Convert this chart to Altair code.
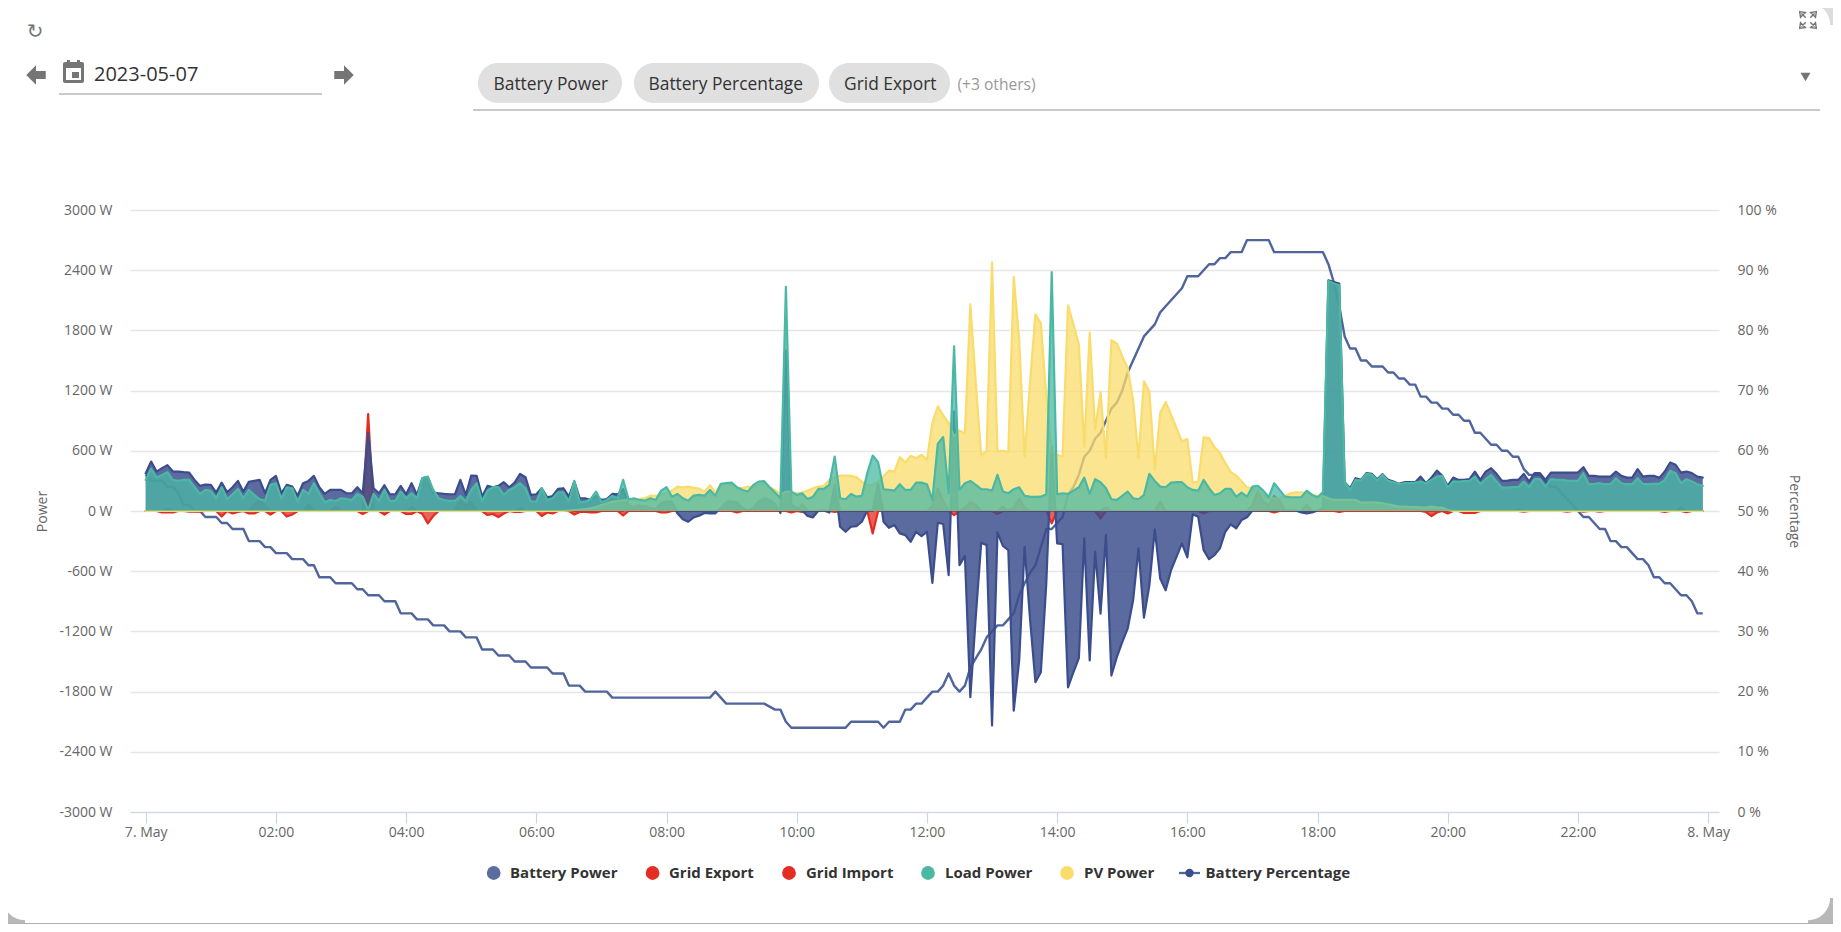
import altair as alt
import pandas as pd

battery_power = [
 376,493,393,427,457,393,393,387,383,310,
 250,263,260,183,283,187,237,300,193,290,
 300,310,177,310,350,177,260,243,153,277,
 300,350,237,170,210,210,210,177,177,237,
 177,777,227,177,257,167,167,250,167,277,
 160,327,337,183,177,170,167,167,310,160,
 353,350,143,250,237,250,287,237,283,370,
 337,160,167,227,137,150,220,227,143,293,
 127,127,110,150,110,120,170,165,220,60,
 27,40,50,30,20,80,95,90,-23,-83,
 -107,-63,-47,-20,-23,-23,30,90,95,85,
 30,5,30,100,125,110,70,-20,1600,60,
 30,5,-50,-63,5,5,-15,260,-157,-207,
 -157,-150,-107,5,5,280,-107,-167,-140,-223,
 -240,-307,-207,-250,-207,-716,-117,-130,-640,990,
 -540,-447,-1855,-1055,-317,-340,-2138,-213,-347,-390,
 -1990,-1490,-357,-1073,-1707,-1607,-723,640,-323,-330,
 -1757,-1607,-1467,-273,-1490,-407,-1023,-240,-1640,-1457,
 -1307,-1173,-890,-373,-1063,-740,-183,-673,-790,-590,
 -457,-323,-463,-33,-57,-390,-480,-440,-373,-207,
 -133,-173,-90,-63,5,5,5,5,5,5,
 5,5,5,-15,-25,-15,5,30,2300,2283,
 2267,287,227,327,310,377,370,317,367,310,
 293,270,287,287,287,343,277,333,403,350,
 250,333,310,310,317,393,310,393,427,370,
 300,303,310,310,370,293,377,377,310,383,
 383,383,383,383,383,437,350,350,343,343,
 343,393,350,333,333,417,343,350,350,330,
 393,483,460,383,393,377,343,333]

load_power = [
 310,420,333,360,387,310,300,310,310,237,
 170,210,200,127,237,120,167,220,127,210,
 160,117,103,260,277,120,237,227,93,210,
 170,277,177,87,110,100,127,120,110,170,
 143,10,170,100,210,100,100,193,127,177,
 127,327,343,210,127,110,100,100,150,100,
 210,277,100,203,237,237,160,210,237,277,
 227,93,93,227,110,127,187,187,93,300,
 87,93,117,193,90,110,150,130,310,117,
 127,110,103,127,110,203,237,143,170,127,
 103,153,160,153,210,153,270,277,283,237,
 210,193,260,293,297,237,183,127,2235,193,
 160,177,120,143,220,220,260,543,127,117,
 170,143,150,377,553,487,217,210,203,267,
 210,210,283,283,267,110,670,737,177,1642,
 210,277,300,260,217,217,203,360,193,177,
 217,237,150,143,140,143,167,2381,167,177,
 170,203,237,333,170,317,287,227,117,110,
 150,193,127,117,160,370,300,243,237,283,
 287,287,237,210,203,310,227,160,177,220,
 220,143,183,143,243,250,203,137,277,210,
 143,137,137,137,203,160,137,190,2293,2267,
 2250,287,210,310,303,370,363,303,360,300,
 287,267,277,277,283,293,277,310,343,350,
 233,293,293,297,300,343,267,317,360,293,
 233,233,237,237,293,237,317,317,243,317,
 310,310,303,300,300,377,267,270,277,267,
 270,327,277,267,267,327,267,267,270,270,
 310,400,377,277,317,293,267,250]

pv_power = [
 0,0,0,0,0,0,0,0,0,0,
 0,0,0,0,0,0,0,0,0,0,
 0,0,0,0,0,0,0,0,0,0,
 0,0,0,0,0,0,0,0,0,0,
 0,0,0,0,0,0,0,0,0,0,
 0,0,0,0,0,0,0,0,0,0,
 0,0,0,0,0,0,0,0,0,0,
 0,0,0,0,0,0,0,0,5,10,
 15,20,27,40,60,75,93,100,105,110,
 110,120,130,153,150,165,180,203,243,237,
 243,230,223,193,257,183,265,270,270,227,
 227,243,233,260,270,237,210,167,193,190,
 177,183,203,227,243,250,310,333,353,353,
 350,337,293,260,260,293,343,403,393,537,
 483,550,527,560,510,877,1043,953,877,743,
 803,770,2060,1277,550,600,2477,593,600,587,
 2333,1710,537,1277,1960,1870,1143,600,560,543,
 2050,1860,1660,643,1777,810,1183,527,1703,1670,
 1543,1427,1110,527,1293,1193,410,977,1087,960,
 827,693,717,283,293,733,727,637,577,477,
 387,353,293,237,227,210,160,127,127,127,
 150,177,187,187,177,160,150,150,127,110,
 110,110,110,110,83,83,87,83,77,67,
 53,43,43,40,40,37,33,43,33,33,
 10,0,0,0,0,0,0,0,0,0,
 0,0,0,0,0,0,0,0,0,0,
 0,0,0,0,0,0,0,0,0,0,
 0,0,0,0,0,0,0,0,0,0,
 0,0,0,0,0,0,0,0]

battery_percentage = [
 56,55,55,55,54,54,53,51,51,50,
 50,49,49,49,48,48,47,47,47,45,
 45,45,44,44,43,43,43,42,42,42,
 41,41,39,39,39,38,38,38,38,37,
 37,36,36,36,35,35,35,33,33,33,
 32,32,32,31,31,31,30,30,30,29,
 29,29,27,27,27,26,26,26,25,25,
 25,24,24,24,24,23,23,23,21,21,
 21,20,20,20,20,20,19,19,19,19,
 19,19,19,19,19,19,19,19,19,19,
 19,19,19,19,19,20,19,18,18,18,
 18,18,18,18,18,17.5,17,17,15,14,
 14,14,14,14,14,14,14,14,14,14,
 15,15,15,15,15,15,14,15,15,15,
 17,17,18,18,19,20,20,21,23,21,
 20,21,24,25.5,27,29,30,31,31,32,
 33,36,38,39.7,41,44,47,47,48,49,
 52.7,54,56,59,60,62,63,65,67,68,
 70,73,75,77,79,80,81,83,84,85,
 86,87,89,89,89,90,91,91,92,92,
 93,93,93,95,95,95,95,95,93,93,
 93,93,93,93,93,93,93,93,91,88,
 84,79,77,77,75,75,74,74,74,73,
 73,72,72,71,71,69,69,68,68,67,
 67,66,66,65,65,63,63,62,61,61,
 60,60,59,59,57,56,56,56,55,54,
 54,53,52,51,50,49,49,48,47,47,
 45,45,44,44,43,42,42,41,39,39,
 38,38,37,36,36,35,33,33]

grid_import_slots = [4,20,21,22,30,35,41,49,58,59,60,69,89,90,91,95,96,97,107,108,109,113,114,115,116,121,127,135,145,146,147,151,152,153,158,160,161,162,177,187,204,205,206,207,208,209,214,253,283]
grid_import_watts = [20,60,110,50,60,40,966,40,100,50,90,30,60,40,60,70,90,90,70,90,80,80,120,110,40,70,240,260,50,225,100,30,90,60,40,30,125,30,35,90,60,190,90,50,150,100,60,20,35]
grid_export_slots = [3,4,5,8,9,10,14,16,17,19,20,23,26,27,40,44,48,49,51,52,53,63,64,65,66,68,69,73,74,75,79,80,81,82,83,88,95,96,109,119,121,127,134,149,157,167,176,195,208,220,236,237,238,240,243,244,245,254,262,265,268,280,284]
grid_export_watts = [-15,-15,-15,-6,-6,-6,-55,-25,-10,-25,-25,-35,-55,-35,-30,-35,-30,-30,-30,-123,-50,-40,-30,-60,-25,-10,-10,-50,-15,-25,-35,-10,-10,-15,-15,-45,-15,-15,-15,-15,-10,-8,-223,-40,-30,-123,-75,-25,-15,-10,-10,-50,-15,-25,-20,-20,-20,-6,-6,-6,-6,-8,-12]

power_ticks = [-3000,-2400,-1800,-1200,-600,0,600,1200,1800,2400,3000]
percent_ticks = [0,10,20,30,40,50,60,70,80,90,100]
hour_ticks = [0,2,4,6,8,10,12,14,16,18,20,22]

COL_BATT = "#3b4d8c"
COL_RED = "#e32d22"
COL_LOAD = "#4bb8a4"
COL_PV = "#f9dc6b"
COL_PCT = "#4f659c"
FONT = "Open Sans"
ICON = "#757575"

times = pd.date_range("2023-05-07T00:00:00", periods=288, freq="5min").strftime("%Y-%m-%dT%H:%M:%SZ").tolist()
def spread(slots, watts):
    d = dict(zip(slots, watts))
    return [d.get(i, 0) for i in range(288)]
grid_import = spread(grid_import_slots, grid_import_watts)
grid_export = spread(grid_export_slots, grid_export_watts)

x_scale = alt.Scale(type="utc", domain=["2023-05-06T23:45:30Z", "2023-05-08T00:10:00Z"], nice=False)
x_values = [alt.DateTime(year=2023, month=5, date=7, hours=h, utc=True) for h in hour_ticks] + [
    alt.DateTime(year=2023, month=5, date=8, hours=0, utc=True)]
x_enc = alt.X("t:T", title=None, scale=x_scale,
    axis=alt.Axis(values=x_values,
        labelExpr="utcFormat(datum.value,'%H:%M')=='00:00' ? utcFormat(datum.value,'%-d. %b') : utcFormat(datum.value,'%H:%M')",
        grid=False, domainColor="#ccd6eb", domainWidth=1.2, tickColor="#ccd6eb", tickSize=11, tickWidth=1.2,
        labelColor="#666666", labelFont=FONT, labelFontSize=14, labelPadding=2))
x_noaxis = alt.X("t:T", title=None, scale=x_scale, axis=None)
y_scale = alt.Scale(domain=[-3000, 3000], nice=False, zero=False)

power_axis = alt.Axis(values=power_ticks, labelExpr="datum.value + ' W'", orient="left", grid=True,
    gridColor="#e6e6e6", gridWidth=1.4, domain=False, ticks=False, labelPadding=18,
    labelColor="#666666", labelFont=FONT, labelFontSize=14,
    titleFont=FONT, titleFontSize=14, titleColor="#666666", titleFontWeight="normal", titlePadding=9)
percent_axis = alt.Axis(values=percent_ticks, labelExpr="datum.value + ' %'", orient="right", grid=False,
    domain=False, ticks=False, labelPadding=18,
    labelColor="#666666", labelFont=FONT, labelFontSize=14,
    titleFont=FONT, titleFontSize=14, titleColor="#666666", titleFontWeight="normal", titlePadding=10)

def area(values, color, axis=None):
    df = pd.DataFrame({"t": times, "v": values})
    return alt.Chart(df).mark_area(
        color=color, fillOpacity=0.83 if color == COL_BATT else 0.75,
        line=alt.OverlayMarkDef(color=color, strokeWidth=2.2, strokeJoin="round", strokeCap="round"),
    ).encode(x=x_noaxis, y=alt.Y("v:Q", stack=None, scale=y_scale, axis=axis, title="Power" if axis else None))

power = alt.layer(
    area(grid_export, COL_RED, power_axis),
    area(grid_import, COL_RED),
    area(battery_power, COL_BATT),
    area(pv_power, COL_PV),
    area(load_power, COL_LOAD),
).resolve_axis(x="independent", y="independent")
pct = alt.Chart(pd.DataFrame({"t": times, "p": battery_percentage})).mark_line(
    color=COL_PCT, strokeWidth=2.4, strokeJoin="round"
).encode(x=x_enc, y=alt.Y("p:Q", scale=alt.Scale(domain=[0, 100], nice=False), axis=percent_axis, title="Percentage"))

# ---- page furniture, in screen pixels ----
OX, OY = 130, 210
one = alt.Data(values=[{"k": 1}])
def box(x0, y0, x1, y1, color, radius=0, opacity=1):
    return alt.Chart(one).mark_rect(color=color, cornerRadius=radius, opacity=opacity).encode(
        x=alt.value(x0 - OX), x2=alt.value(x1 - OX), y=alt.value(y0 - OY), y2=alt.value(y1 - OY))
def label(s, x, y, size=14, color="#333333", weight="normal", align="left", font=FONT):
    return alt.Chart(one).mark_text(text=s, font=font, fontSize=size, color=color, fontWeight=weight,
        align=align, baseline="middle").encode(x=alt.value(x - OX), y=alt.value(y - OY))
def glyph(shape, x, y, size, color=ICON, filled=True, stroke=1.0):
    return alt.Chart(one).mark_point(shape=shape, size=size, filled=filled, color=color, opacity=1,
        strokeWidth=stroke).encode(x=alt.value(x - OX), y=alt.value(y - OY))
def dot(x, y, color, size=190):
    return alt.Chart(one).mark_circle(size=size, color=color, opacity=1).encode(x=alt.value(x - OX), y=alt.value(y - OY))
def hline(x0, x1, y, color="#949494", width=1.2):
    return alt.Chart(one).mark_rule(color=color, strokeWidth=width).encode(
        x=alt.value(x0 - OX), x2=alt.value(x1 - OX), y=alt.value(y - OY))

ARROW_L = "M-1,0 L0,-1 L0,-0.42 L1,-0.42 L1,0.42 L0,0.42 L0,1 Z"
ARROW_R = "M1,0 L0,-1 L0,-0.42 L-1,-0.42 L-1,0.42 L0,0.42 L0,1 Z"
EXPAND = ("M-0.95,-0.95 L-0.3,-0.85 L-0.85,-0.3 Z M-0.75,-0.75 L-0.25,-0.25 "
          "M0.95,-0.95 L0.3,-0.85 L0.85,-0.3 Z M0.75,-0.75 L0.25,-0.25 "
          "M-0.95,0.95 L-0.3,0.85 L-0.85,0.3 Z M-0.75,0.75 L-0.25,0.25 "
          "M0.95,0.95 L0.3,0.85 L0.85,0.3 Z M0.75,0.75 L0.25,0.25")

# card corners and shadow edge (the card itself is the chart's white background)
backdrop = [
    box(1808, 8, 1833, 25, "#dcdcdc"),
    dot(1808, 25, "#ffffff", size=1963),
    box(1808, 898, 1833, 924, "#b8b8b8"),
    dot(1808, 898, "#ffffff", size=1963),
    box(8, 898, 25, 924, "#b8b8b8"),
    dot(25, 898, "#ffffff", size=1963),
    box(8, 923, 1833, 924, "#b0b0b0"),
]
ui = [
    label("\u21bb", 35, 32, size=20, color=ICON, font="DejaVu Sans", align="center"),
    glyph(ARROW_L, 36, 75, 380),
    glyph(ARROW_R, 344, 75, 380),
    box(63, 62, 84, 83, ICON, 2),
    box(66, 68, 81, 80, "#ffffff"),
    box(72, 72, 79, 78, ICON),
    box(67, 60, 70, 63, ICON),
    box(77, 60, 80, 63, ICON),
    label("2023-05-07", 94, 75, size=20, color="#333333"),
    hline(59, 322, 94),
    box(478, 63, 622, 103, "#e0e0e0", 20),
    box(634, 63, 819, 103, "#e0e0e0", 20),
    box(829, 63, 950, 103, "#e0e0e0", 20),
    label("Battery Power", 493.5, 85, size=17.4),
    label("Battery Percentage", 648.5, 85, size=17.4),
    label("Grid Export", 844, 85, size=17.4),
    label("(+3 others)", 957.5, 85, size=15.6, color="#999999"),
    hline(473, 1820, 110),
    glyph("triangle-down", 1805.5, 77, 100),
    glyph(EXPAND, 1808, 20, 310, filled=False, stroke=1.4),
]
legend = [
    dot(493.7, 873, "#5b6c9f"), label("Battery Power", 510, 873, size=15, weight="bold"),
    dot(652.6, 873, COL_RED), label("Grid Export", 669, 873, size=15, weight="bold"),
    dot(789, 873, COL_RED), label("Grid Import", 806, 873, size=15, weight="bold"),
    dot(928, 873, COL_LOAD), label("Load Power", 945, 873, size=15, weight="bold"),
    dot(1067, 873, COL_PV), label("PV Power", 1084, 873, size=15, weight="bold"),
    hline(1179, 1200, 873, color=COL_PCT, width=2.3),
    dot(1189.5, 873, COL_BATT, size=70), label("Battery Percentage", 1205.5, 873, size=15, weight="bold"),
]

chart = alt.layer(*backdrop, pct, power, *ui, *legend).resolve_scale(y="independent").resolve_axis(
    x="independent", y="independent").properties(
    width=1589, height=602, background="#ffffff",
    padding={"left": 122, "top": 202, "right": 114, "bottom": 112},
    autosize=alt.AutoSizeParams(type="none"),
).configure_view(stroke=None)

chart.save("out.html", embed_options={"renderer": "svg", "actions": False})
